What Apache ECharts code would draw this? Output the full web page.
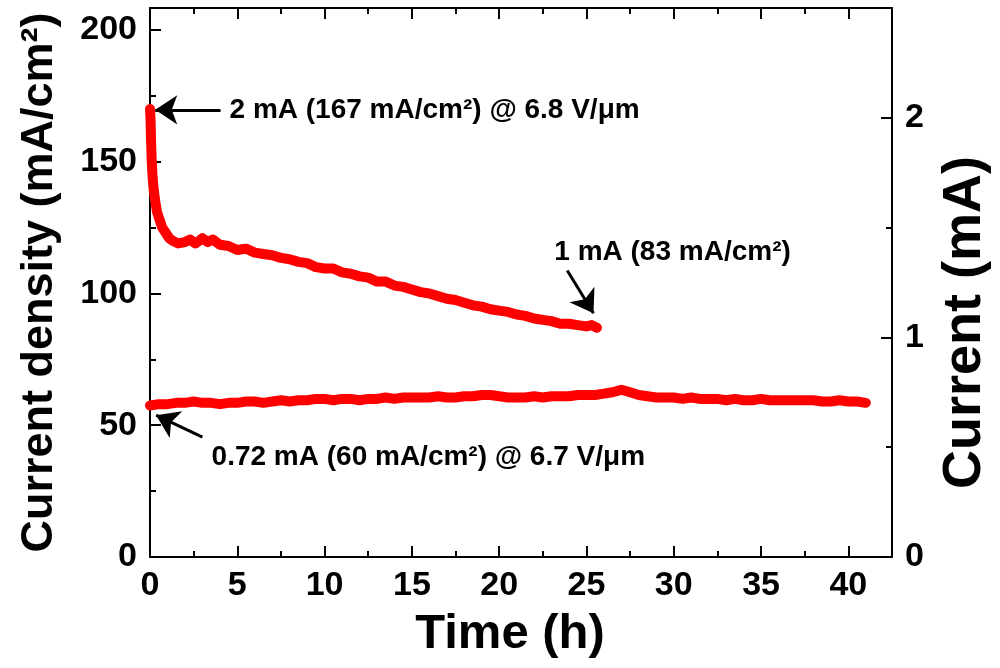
<!DOCTYPE html>
<html>
<head>
<meta charset="utf-8">
<script src="https://cdn.jsdelivr.net/npm/echarts@6/dist/echarts.min.js"></script>
<style>
  html, body { margin: 0; padding: 0; background: #fff; }
  #chart { width: 1000px; height: 668px; }
</style>
</head>
<body>
<div id="chart"></div>
<script>
// upper trace: 2 mA start, decays to ~1 mA at 25.6 h
const timeHigh = [0, 0.03, 0.06, 0.1, 0.15, 0.2, 0.3, 0.4, 0.5, 0.7, 0.9, 1.1, 1.3, 1.6, 2.0, 2.3, 2.6, 3.0, 3.3, 3.6, 4.0, 4.5, 5.0, 5.5, 6.0, 6.5, 7.0, 7.5, 8.0, 8.5, 9.0, 9.5, 10.0, 10.5, 11.0, 11.5, 12.0, 12.5, 13.0, 13.5, 14.0, 14.5, 15.0, 15.5, 16.0, 16.5, 17.0, 17.5, 18.0, 18.5, 19.0, 19.5, 20.0, 20.5, 21.0, 21.5, 22.0, 22.5, 23.0, 23.5, 24.0, 24.5, 25.0, 25.3, 25.6];
const densityHigh = [170, 166, 158, 150, 144, 140, 135, 131, 129, 125, 123, 121, 120, 119, 119.5, 120.5, 119, 121, 119.5, 120.5, 118.5, 118, 116.5, 117, 115.5, 115, 114.5, 113.5, 113, 112, 111.5, 110, 109.5, 109.5, 108, 107.5, 106.5, 106, 104.5, 104.5, 103, 102.5, 101.5, 100.5, 100, 99, 98, 97.5, 96.5, 95.5, 95, 94, 93.5, 93, 92, 91.5, 90.5, 90, 89.5, 88.5, 88.5, 88, 87.5, 88, 87];

// lower trace: 0.72 mA, stable over 41 h
const timeLow = [0, 0.5, 1, 1.5, 2, 2.5, 3, 3.5, 4, 4.5, 5, 5.5, 6, 6.5, 7, 7.5, 8, 8.5, 9, 9.5, 10, 10.5, 11, 11.5, 12, 12.5, 13, 13.5, 14, 14.5, 15, 15.5, 16, 16.5, 17, 17.5, 18, 18.5, 19, 19.5, 20, 20.5, 21, 21.5, 22, 22.5, 23, 23.5, 24, 24.5, 25, 25.5, 26, 26.5, 27, 27.5, 28, 28.5, 29, 29.5, 30, 30.5, 31, 31.5, 32, 32.5, 33, 33.5, 34, 34.5, 35, 35.5, 36, 36.5, 37, 37.5, 38, 38.5, 39, 39.5, 40, 40.5, 41];
const densityLow = [57.5, 58, 58, 58.5, 58.5, 59, 58.5, 58.5, 58, 58.5, 58.5, 59, 59, 58.5, 59, 59.5, 59, 59.5, 59.5, 60, 60, 59.5, 60, 60, 59.5, 60, 60, 60.5, 60, 60.5, 60.5, 60.5, 60.5, 61, 60.5, 60.5, 61, 61, 61.5, 61.5, 61, 60.5, 60.5, 60.5, 61, 60.5, 61, 61, 61, 61.5, 61.5, 61.5, 62, 62.5, 63.5, 62.5, 61.5, 61, 60.5, 60.5, 60.5, 60, 60.5, 60, 60, 60, 59.5, 60, 59.5, 59.5, 60, 59.5, 59.5, 59.5, 59.5, 59.5, 59.5, 59, 59, 59.5, 59, 59, 58.5];

// axis ranges (1 mA <-> 83.33 mA/cm2)
const timeMax = 42.5;
const densityMax = 208.33;
const currentMax = 2.5;

// annotation texts and where they sit (in data units)
const noteTexts = ['2 mA (167 mA/cm²) @ 6.8 V/μm', '1 mA (83 mA/cm²)', '0.72 mA (60 mA/cm²) @ 6.7 V/μm'];
const noteAt = [[4.27, 169.7], [22.87, 115.5], [3.24, 37.9]];
const arrowFrom = [[4.04, 169.7], [23.9, 108.7], [3.0, 45.5]];
const arrowTo = [[0.3, 169.7], [25.4, 92.5], [0.35, 53.8]];

const font = '"Liberation Sans", Arial, sans-serif';
const black = '#000';

function pairs(xs, ys) {
  return xs.map((x, i) => [x, ys[i]]);
}

function majorX(pos, labels) {
  return {
    type: 'value', position: pos, min: 0, max: timeMax, interval: 5,
    axisLine: { show: true, onZero: false, lineStyle: { color: black, width: 2 } },
    axisTick: { show: true, inside: true, length: 11, lineStyle: { color: black, width: 2 } },
    axisLabel: {
      show: labels, margin: 12, color: black, fontSize: 34, fontWeight: 'bold', fontFamily: font,
      formatter: v => (v % 5 === 0 ? v : '')
    },
    splitLine: { show: false },
    name: labels ? 'Time (h)' : '',
    nameLocation: 'middle', nameGap: 53,
    nameTextStyle: {
      color: black, fontSize: 49, fontWeight: 'bold', fontFamily: font,
      padding: [0, 22, 0, 0]
    }
  };
}

function minorX(pos) {
  return {
    type: 'value', position: pos, min: 0, max: timeMax, interval: 2.5,
    axisLine: { show: false, onZero: false },
    axisTick: { show: true, inside: true, length: 6, lineStyle: { color: black, width: 2 } },
    axisLabel: { show: false },
    splitLine: { show: false }
  };
}

function minorY(pos, max, step) {
  return {
    type: 'value', position: pos, min: 0, max: max, interval: step,
    axisLine: { show: false, onZero: false },
    axisTick: { show: true, inside: true, length: 6, lineStyle: { color: black, width: 2 } },
    axisLabel: { show: false },
    splitLine: { show: false }
  };
}

const chart = echarts.init(document.getElementById('chart'));

chart.setOption({
  animation: false,
  backgroundColor: '#fff',
  grid: { left: 150, right: 103, top: 8, bottom: 111 },
  xAxis: [majorX('bottom', true), minorX('bottom'), majorX('top', false), minorX('top')],
  yAxis: [
    {
      type: 'value', position: 'left', min: 0, max: densityMax, interval: 50,
      axisLine: { show: true, onZero: false, lineStyle: { color: black, width: 2 } },
      axisTick: { show: true, inside: true, length: 11, lineStyle: { color: black, width: 2 } },
      axisLabel: {
        margin: 13, color: black, fontSize: 34, fontWeight: 'bold', fontFamily: font,
        formatter: v => (v % 50 === 0 ? v : '')
      },
      splitLine: { show: false },
      name: 'Current density (mA/cm²)',
      nameLocation: 'middle', nameGap: 88,
      nameTextStyle: { color: black, fontSize: 45, fontWeight: 'bold', fontFamily: font }
    },
    {
      type: 'value', position: 'right', min: 0, max: currentMax, interval: 1,
      axisLine: { show: true, onZero: false, lineStyle: { color: black, width: 2 } },
      axisTick: { show: true, inside: true, length: 11, lineStyle: { color: black, width: 2 } },
      axisLabel: {
        margin: 13, color: black, fontSize: 34, fontWeight: 'bold', fontFamily: font,
        formatter: v => (v % 1 === 0 ? v : '')
      },
      splitLine: { show: false },
      name: 'Current (mA)',
      nameLocation: 'middle', nameGap: 46,
      nameTextStyle: {
        color: black, fontSize: 54, fontWeight: 'bold', fontFamily: font,
        padding: [0, 80, 0, 0]
      }
    },
    minorY('left', densityMax, 25),
    minorY('right', currentMax, 0.5)
  ],
  series: [
    {
      name: 'high',
      type: 'line',
      data: pairs(timeHigh, densityHigh),
      showSymbol: false,
      lineStyle: { color: '#ff0000', width: 10, join: 'round', cap: 'round' },
      markLine: {
        silent: true,
        symbol: ['none', 'arrow'],
        symbolSize: 22,
        label: { show: false },
        lineStyle: { color: black, width: 3, type: 'solid' },
        data: arrowFrom.map((p, i) => [{ coord: p }, { coord: arrowTo[i] }])
      }
    },
    {
      name: 'low',
      type: 'line',
      data: pairs(timeLow, densityLow),
      showSymbol: false,
      lineStyle: { color: '#ff0000', width: 10, join: 'round', cap: 'round' }
    },
    {
      name: 'notes',
      type: 'scatter',
      silent: true,
      symbolSize: 0,
      itemStyle: { opacity: 1 },
      data: noteAt.map((p, i) => [p[0], p[1], noteTexts[i]]),
      label: {
        show: true, position: 'right', distance: 5,
        formatter: p => p.value[2],
        color: black, fontSize: 28, fontWeight: 'bold', fontFamily: font
      }
    }
  ]
});
</script>
</body>
</html>
